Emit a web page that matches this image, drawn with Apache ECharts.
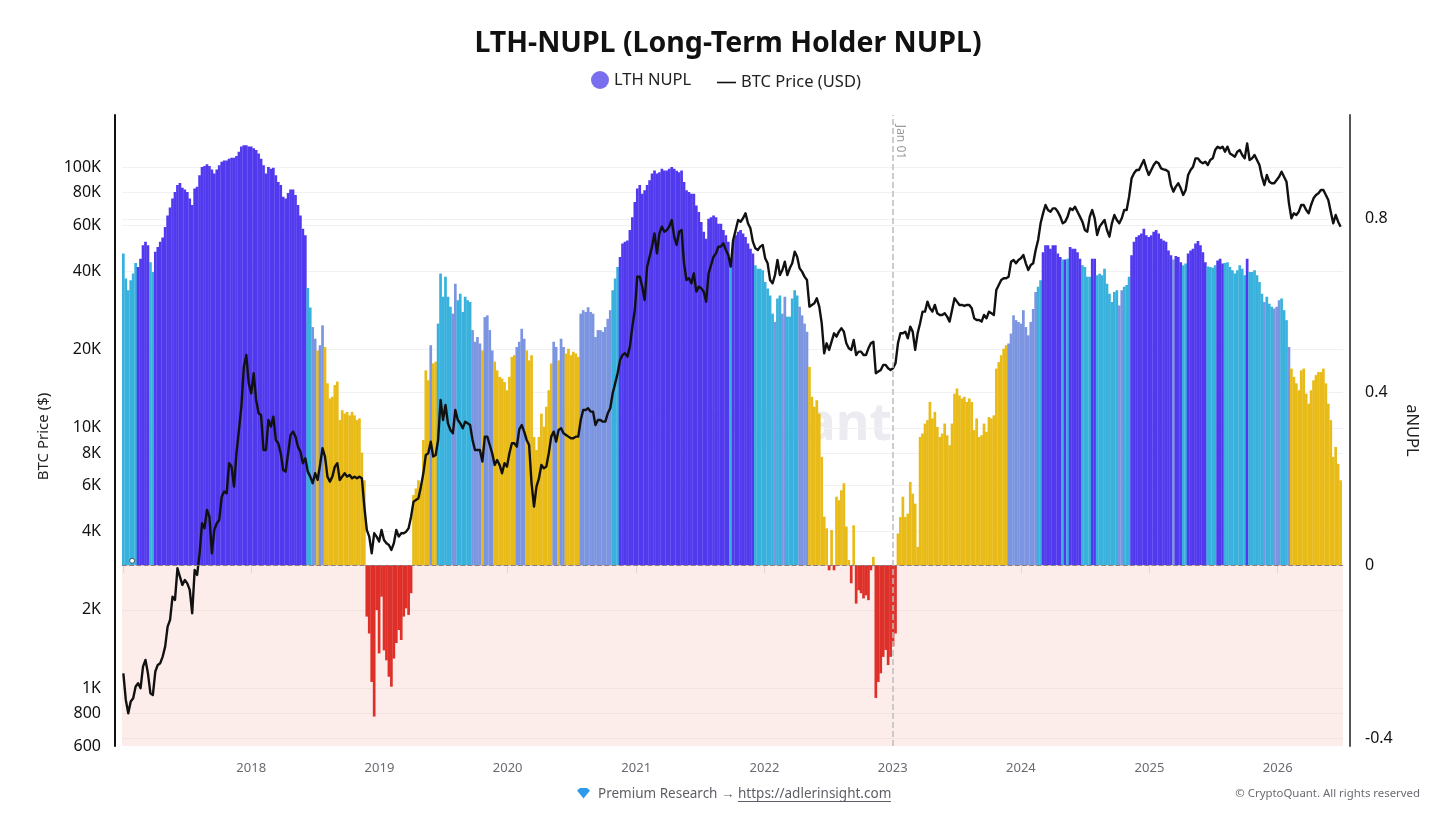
<!DOCTYPE html>
<html><head><meta charset="utf-8">
<style>html,body{margin:0;padding:0;background:#fff}#c{width:1456px;height:819px}</style>
<script src="https://cdn.jsdelivr.net/npm/echarts@6/dist/echarts.min.js"></script>
</head><body><div id="c"></div>
<script>
const startDay = '2017-01-02';
const endDay = '2026-07-02';
const stepDays = 7;
const priceTicks = [800,1000,2000,4000,6000,8000,10000,20000,40000,60000,80000,100000];
const priceTickLabels = [600,800,1000,2000,4000,6000,8000,10000,20000,40000,60000,80000,100000];
const nuplTicks = [-0.4,0,0.4,0.8];
const nuplValues = [
.72,.662,.635,.658,.674,.698,.689,.708,.739,.747,
.739,.70,.677,.724,.735,.747,.757,.781,.808,.826,
.847,.862,.878,.883,.872,.868,.862,.847,.832,.870,
.874,.901,.920,.922,.926,.922,.914,.905,.914,.924,
.932,.935,.935,.939,.941,.941,.945,.955,.967,.970,
.970,.967,.967,.963,.959,.951,.939,.924,.905,.920,
.916,.918,.901,.885,.878,.851,.847,.860,.868,.868,
.855,.832,.808,.777,.762,.64,.595,.55,.523,.496,
.508,.554,.504,.42,.385,.389,.416,.424,.335,.358,
.35,.354,.346,.354,.346,.335,.339,.26,.196,-.119,
-.158,-.27,-.35,-.104,-.204,-.073,-.197,-.22,-.258,-.281,
-.216,-.18,-.15,-.173,-.119,-.1,-.115,-.065,.162,.177,
.196,.189,.289,.45,.427,.508,.466,.47,.558,.674,
.62,.666,.62,.597,.581,.65,.612,.627,.585,.62,
.612,.608,.543,.516,.527,.512,.496,.573,.577,.543,
.496,.47,.45,.435,.431,.423,.404,.435,.481,.485,
.504,.516,.546,.523,.496,.473,.485,.296,.266,.296,
.35,.32,.366,.404,.466,.516,.504,.473,.523,.504,
.489,.5,.485,.493,.489,.481,.581,.589,.585,.596,
.585,.581,.527,.543,.543,.539,.55,.569,.589,.635,
.662,.689,.712,.743,.747,.75,.774,.804,.839,.870,
.878,.858,.866,.878,.889,.905,.912,.905,.908,.916,
.912,.912,.916,.92,.916,.911,.908,.912,.885,.866,
.862,.858,.858,.831,.816,.793,.77,.754,.8,.804,
.808,.804,.789,.789,.774,.762,.747,.708,.751,.762,
.77,.774,.766,.758,.743,.731,.72,.693,.685,.685,
.681,.654,.639,.623,.581,.562,.616,.623,.581,.62,
.574,.574,.616,.635,.623,.597,.577,.558,.539,.458,
.389,.366,.381,.35,.25,.112,.085,-.012,.081,-.012,
.158,.15,.173,.189,.089,.012,-.042,.092,-.089,-.058,
-.065,-.077,-.07,-.081,-.012,.019,-.307,-.27,-.25,-.212,
-.196,-.231,-.212,-.188,-.158,.073,.111,.158,.111,.119,
.192,.165,.142,.042,.296,.304,.327,.335,.377,.339,
.354,.319,.296,.304,.327,.3,.277,.327,.396,.408,
.392,.385,.389,.377,.385,.377,.312,.339,.296,.3,
.327,.308,.342,.339,.346,.454,.469,.485,.5,.508,
.512,.535,.577,.566,.562,.558,.589,.55,.531,.562,
.592,.631,.643,.658,.723,.739,.739,.731,.739,.739,
.72,.712,.706,.706,.708,.735,.731,.731,.723,.708,
.693,.689,.666,.666,.708,.708,.67,.673,.67,.685,
.65,.627,.608,.631,.635,.6,.635,.643,.647,.666,
.716,.747,.758,.762,.766,.777,.762,.758,.762,.77,
.774,.766,.754,.75,.747,.727,.716,.706,.714,.712,
.7,.693,.697,.72,.727,.731,.743,.749,.739,.723,
.7,.69,.689,.687,.693,.704,.708,.697,.698,.7,
.689,.681,.674,.681,.693,.685,.67,.708,.677,.677,
.681,.67,.654,.627,.608,.62,.604,.597,.593,.597,
.612,.616,.589,.566,.504,.454,.435,.42,.404,.45,
.454,.396,.373,.404,.427,.439,.446,.446,.454,.42,
.373,.335,.25,.273,.234,.196];
const priceValues = [
1141,902,801,889,915,1015,1045,1000,1210,1284,
1141,957,942,1159,1229,1248,1323,1444,1724,1829,
2247,2183,2887,2682,2492,2604,2527,2384,1940,2845,
2722,3296,4298,4113,4837,4560,3296,4052,4298,4426,
5441,5688,5600,7305,7096,5946,7980,9808,12056,17165,
19030,14810,13560,16187,12785,11360,11197,8218,8218,10715,
10102,11036,8979,8717,7980,6886,6786,7980,9384,9665,
9247,8464,8099,7305,7635,6786,6492,6120,6687,6304,
7200,8341,7748,6492,6212,6492,7093,7305,6304,6492,
6687,6492,6590,6397,6492,6397,6492,6397,4980,4052,
3820,3296,3934,3820,3656,4052,3709,3602,3549,3395,
3602,4052,3820,3934,3934,3992,4111,4558,5205,5282,
5361,5942,6687,7864,7980,8846,7748,7864,8978,12785,
10713,12232,10403,9804,9521,11705,10713,10403,9952,10556,
10403,10250,8978,8217,8217,8217,7413,9245,9245,8588,
7980,7200,7521,7200,6687,7305,7093,7980,8716,8716,
8464,9865,10250,9663,8978,8590,6120,4980,5942,6397,
7200,6987,7093,7980,9247,9663,8846,9810,9954,9523,
9385,9247,9110,9110,9247,9247,10713,11705,11705,11880,
11535,11535,10250,10713,10713,10556,10556,11360,11880,13560,
14810,16187,18200,19030,19310,18755,20490,24440,28330,38040,
38040,34810,30940,41540,45380,49590,55780,46730,55780,59170,
56610,57450,59170,62750,54160,50320,56610,57450,42790,36940,
37480,35850,39170,33310,34810,34300,33310,30490,39170,42160,
45380,46730,49590,49600,51080,48160,46060,41560,52600,57450,
62750,61830,63700,66570,60940,58300,51820,48870,48160,49600,
50330,44730,42800,36940,35850,38600,44080,38600,40340,43430,
38600,40950,42800,47450,45390,40950,39760,38040,36940,29170,
29600,30050,31400,29170,25190,19310,21100,19900,21410,23050,
22380,23390,24090,23390,21100,20190,19900,21730,19030,19600,
19600,19030,19030,20190,21100,21410,16190,16430,16670,17430,
17430,16920,16670,16920,17680,21100,23050,23050,23390,22060,
24450,23390,19900,23050,25190,27920,27920,30500,28760,27920,
29620,27510,27100,27100,27510,26710,25560,28330,31400,30500,
29620,29620,29360,29620,29620,28760,26320,25930,25930,25560,
27100,26320,27920,27510,27100,33810,35340,36940,37490,37490,
38040,43430,44080,42800,44080,44730,46060,42800,40340,42170,
42800,48160,52600,60950,66570,71670,68560,67550,69570,69570,
67550,64650,60950,61840,64650,69570,68560,70600,67550,64650,
61840,57460,56620,64650,68560,63710,54990,59180,60950,62750,
57460,54170,60950,65610,62750,60950,63700,68560,68560,77170,
90700,94820,97630,97630,102040,106660,99080,93440,97630,102040,
105100,103560,99080,98200,97630,96230,85510,80640,84300,86800,
83040,78300,81840,93440,97630,100560,108240,108240,105100,103560,
105100,102040,106660,108240,116500,120050,118300,120050,114800,120050,
113100,111500,109850,114800,116500,111500,108240,123600,106660,108240,
111500,106660,102040,92050,85510,93440,88080,86800,86800,89400,
92050,96230,92050,88080,72720,63700,66570,65600,67550,71680,
71680,68560,66570,71680,76020,78300,79460,81840,81840,78300,
74900,67550,60950,65600,61840,59170];
// regime of each reading, as runs: [regime, number of readings]
const regimeRuns = [['c',6],['p',5],['c',2],['p',62],['c',2],['w',2],['y',1],['w',2],['y',43],['w',1],['y',2],
['c',6],['w',2],['c',6],['w',4],['y',1],['w',4],['y',9],['w',4],['y',11],['w',2],['y',1],['w',2],['y',6],['w',13],
['c',3],['p',45],['c',1],['p',9],['c',8],['w',1],['c',2],['w',2],['c',5],['w',4],['y',81],['w',12],['c',2],['p',8],
['c',1],['p',1],['c',1],['p',5],['c',4],['p',2],['c',9],['w',2],['c',3],['p',17],['w',1],['p',3],['c',2],['p',8],
['c',4],['p',3],['c',9],['p',1],['c',6],['w',1],['c',3],['w',3],['c',3],['w',1],['y',21]];
const regimeColors = {p:'#5139EE',c:'#38B1DD',w:'#7C95E0',y:'#E9BB18'};
const lossColor = '#DE3029';

const DAY = 86400000;
const t0 = Date.parse(startDay+'T00:00:00Z');
const dates = nuplValues.map((_,i)=>t0+i*stepDays*DAY);
const regimes = [];
regimeRuns.forEach(([r,n])=>{for(let k=0;k<n;k++)regimes.push(r);});
const FONT = '"Noto Sans","Open Sans",sans-serif';
const fmtK = v => v>=1000 ? (v/1000)+'K' : String(v);

const chart = echarts.init(document.getElementById('c'),null,{renderer:'canvas'});
chart.setOption({
 animation:false,
 useUTC:true,
 backgroundColor:'#fff',
 title:{text:'LTH-NUPL (Long-Term Holder NUPL)',left:'center',top:24,textStyle:{fontFamily:FONT,fontSize:28.5,fontWeight:700,color:'#111'}},
 legend:[
  {left:586,top:66,itemWidth:18,itemHeight:18,itemGap:6,icon:'circle',
   data:[{name:'LTH NUPL',itemStyle:{color:'#7B6EEE'}}],textStyle:{fontFamily:FONT,fontSize:16.5,color:'#222'},selectedMode:false},
  {left:712,top:69,itemWidth:19,itemHeight:1.6,itemGap:6,icon:'rect',
   data:[{name:'BTC Price (USD)',itemStyle:{color:'#111'}}],textStyle:{fontFamily:FONT,fontSize:16.5,color:'#222'},selectedMode:false}
 ],
 grid:{left:122,right:113,top:115,bottom:73,containLabel:false},
 xAxis:{type:'time',min:t0,max:Date.parse(endDay+'T00:00:00Z'),minInterval:300*DAY,splitNumber:9,
  axisLine:{show:true,lineStyle:{color:'#DCCFCF',width:1}},
  axisTick:{show:true,length:8,lineStyle:{color:'#DDD'}},
  axisLabel:{showMinLabel:false,showMaxLabel:false,
    formatter:v=>{const d=new Date(v);return d.getUTCMonth()===0&&d.getUTCDate()===1&&v>t0?String(d.getUTCFullYear()):'';},
    color:'#6A6A72',fontFamily:FONT,fontSize:13,margin:16},
  splitLine:{show:false}},
 yAxis:[
  {type:'log',logBase:10,min:600,max:158800,position:'left',offset:7,
   name:'BTC Price ($)',nameLocation:'middle',nameGap:64,nameRotate:90,nameTextStyle:{fontFamily:FONT,fontSize:15,color:'#222',padding:[0,12,0,0]},
   axisLine:{show:true,lineStyle:{color:'#111',width:2}},
   axisTick:{show:false,customValues:priceTicks},
   axisLabel:{customValues:priceTickLabels,formatter:fmtK,fontFamily:FONT,fontSize:16,color:'#111',margin:14,padding:[0,0,6,0]},
   splitLine:{show:true,lineStyle:{color:'#F1F0F3',width:1}}},
  {type:'value',min:-0.418,max:1.04,position:'right',offset:7,
   name:'aNUPL',nameLocation:'middle',nameGap:53,nameRotate:-90,nameTextStyle:{fontFamily:FONT,fontSize:16.5,color:'#222'},
   axisLine:{show:true,lineStyle:{color:'#555',width:2}},
   axisTick:{show:false,customValues:nuplTicks},
   axisLabel:{customValues:nuplTicks,fontFamily:FONT,fontSize:16,color:'#111',margin:15,padding:[0,0,9,0]},
   splitLine:{show:true,lineStyle:{color:'#F1F0F3',width:1}}}
 ],
 graphic:[
  {type:'text',z:0,x:892,y:425,style:{text:'CryptoQuant',font:'700 52px '+FONT,fill:'#EBEBF1',textAlign:'right',textVerticalAlign:'middle'}},
  {type:'text',z:50,x:900,y:142,rotation:-Math.PI/2,style:{text:'Jan 01',font:'12px '+FONT,fill:'#9A9A9A',textAlign:'center',textVerticalAlign:'middle'}},
  {type:'polygon',z:50,shape:{points:[[577,790.5],[580,788],[587,788],[590,790.5],[583.5,798.5]]},style:{fill:'#2E9BEA'}},
  {type:'text',z:50,x:598,y:794,style:{text:'Premium Research →',font:'13.5px '+FONT,fill:'#5E5E66',textVerticalAlign:'middle'}},
  {type:'text',z:50,x:738,y:794,style:{text:'https://adlerinsight.com',font:'13.5px '+FONT,fill:'#5E5E66',textVerticalAlign:'middle'}},
  {type:'rect',z:50,shape:{x:738,y:801,width:153,height:1},style:{fill:'#5E5E66'}},
  {type:'text',z:50,x:1420,y:794,style:{text:'© CryptoQuant. All rights reserved',font:'11.4px '+FONT,fill:'#6A6A72',textAlign:'right',textVerticalAlign:'middle'}}
 ],
 series:[
  {name:'LTH NUPL',type:'bar',yAxisIndex:1,barWidth:2.7,z:2,
   data:nuplValues.map((v,i)=>[dates[i],v]),
   itemStyle:{color:p=>p.value[1]<0?lossColor:regimeColors[regimes[p.dataIndex]]},
   markArea:{silent:true,z:1,itemStyle:{color:'rgba(245,200,190,0.32)'},data:[[{yAxis:0},{yAxis:-0.418}]]},
   markLine:{silent:true,symbol:'none',z:6,label:{show:false},data:[
     {yAxis:0,lineStyle:{type:'dashed',color:'#8C7F80',width:1.2}},
     {xAxis:Date.parse('2023-01-01T00:00:00Z'),lineStyle:{type:'dashed',color:'#BDBDBD',width:1.5}}]},
   markPoint:{silent:true,symbol:'circle',symbolSize:5,label:{show:false},itemStyle:{color:'#fff',borderColor:'#39566B',borderWidth:1},
     data:[{coord:[Date.parse('2017-01-27T00:00:00Z'),0.01]}]}
  },
  {name:'BTC Price (USD)',type:'line',yAxisIndex:0,z:5,showSymbol:false,symbol:'none',
   data:priceValues.map((v,i)=>[dates[i],v]),lineStyle:{color:'#111',width:2.4,join:'round'}}
 ]
});
</script></body></html>
